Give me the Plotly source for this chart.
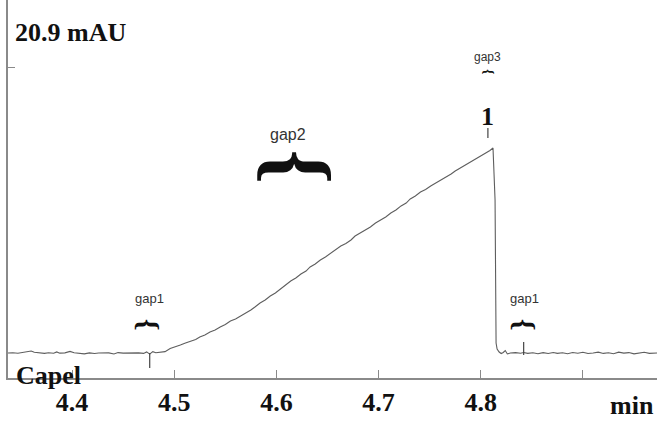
import plotly.graph_objects as go

# Electropherogram trace: migration time (min) and absorbance (mAU)
time_min = [
    4.337, 4.342, 4.347, 4.352, 4.357, 4.360, 4.363, 4.368, 4.373, 4.377,
    4.382, 4.385, 4.388, 4.393, 4.398, 4.402, 4.407, 4.412, 4.417, 4.422,
    4.426, 4.431, 4.436, 4.441, 4.445, 4.450, 4.455, 4.460, 4.465, 4.470,
    4.473, 4.476, 4.479, 4.482,
    4.486, 4.491, 4.496, 4.501, 4.506, 4.511, 4.516, 4.521, 4.525, 4.530,
    4.535, 4.540, 4.545, 4.550, 4.555, 4.560, 4.565, 4.570, 4.575, 4.579,
    4.584, 4.589, 4.594, 4.599, 4.604, 4.609, 4.614, 4.619, 4.624, 4.629,
    4.633, 4.638, 4.643, 4.648, 4.653, 4.658, 4.663, 4.668, 4.673, 4.677,
    4.682, 4.687, 4.692, 4.697, 4.702, 4.707, 4.712, 4.717, 4.722, 4.727,
    4.731, 4.736, 4.741, 4.746, 4.751, 4.756, 4.761, 4.766, 4.771, 4.775,
    4.780, 4.785, 4.790, 4.795, 4.800, 4.805, 4.809, 4.812,
    4.814, 4.815, 4.816, 4.818, 4.820, 4.822, 4.824,
    4.826, 4.829, 4.834, 4.839, 4.842, 4.846, 4.851, 4.856, 4.861, 4.866,
    4.871, 4.875, 4.880, 4.885, 4.890, 4.895, 4.900, 4.905, 4.910, 4.915,
    4.920, 4.925, 4.930, 4.935, 4.940, 4.945, 4.950, 4.955, 4.960, 4.965,
    4.970, 4.973,
]
absorbance_mau = [
    0.00, 0.02, -0.02, 0.03, 0.10, 0.15, 0.05, 0.00, -0.03, 0.02,
    -0.02, 0.08, -0.01, 0.01, 0.12, 0.02, -0.02, -0.06, 0.01, -0.04,
    0.00, -0.02, 0.01, -0.07, 0.03, -0.01, 0.00, -0.02, 0.01, -0.03,
    0.08, -0.08, 0.10, 0.02,
    0.04, 0.10, 0.33, 0.44, 0.58, 0.73, 0.88, 0.99, 1.17, 1.32,
    1.54, 1.68, 1.90, 2.08, 2.34, 2.49, 2.70, 2.89, 3.14, 3.36,
    3.65, 3.87, 4.17, 4.39, 4.68, 4.93, 5.26, 5.48, 5.77, 5.99,
    6.29, 6.51, 6.80, 7.02, 7.31, 7.57, 7.82, 8.00, 8.26, 8.55,
    8.77, 8.95, 9.21, 9.50, 9.72, 9.94, 10.23, 10.45, 10.75, 10.96,
    11.26, 11.48, 11.77, 11.95, 12.21, 12.43, 12.65, 12.83, 13.08, 13.30,
    13.52, 13.71, 13.96, 14.18, 14.40, 14.62, 14.80, 14.99,
    11.18, 0.73, 0.29, 0.07, -0.04, 0.04, 0.18,
    -0.07, 0.00, 0.03, -0.02, 0.04, -0.03, 0.02, -0.05, 0.03, -0.04,
    0.04, -0.03, 0.02, -0.05, 0.04, -0.02, 0.05, -0.04, 0.00, 0.06,
    -0.03, 0.02, -0.05, 0.06, -0.01, 0.03, -0.06, 0.02, 0.05, -0.03,
    0.01, 0.00,
]

x_tick_vals = [4.4, 4.5, 4.6, 4.7, 4.8, 4.9]
x_tick_text = ["4.4", "4.5", "4.6", "4.7", "4.8", ""]
y_full_scale = 20.9

# Event markers (time, from, to) and gap labels (label, centre time)
marker_times = [4.476, 4.842, 4.807]
marker_lows = [-1.10, -0.15, 15.72]
marker_highs = [0.00, 0.80, 16.45]

gap_labels = ["gap1", "gap2", "gap3", "gap1"]
gap_centres = [4.4755, 4.6118, 4.807, 4.843]
brace_centres = [4.4745, 4.6215, 4.807, 4.8425]

axis_grey = "#8a8a8a"
serif = "Liberation Serif"
sans = "Liberation Sans"

fig = go.Figure()
fig.add_trace(go.Scatter(
    x=time_min, y=absorbance_mau, mode="lines",
    line=dict(color="#5e5e5e", width=1.1), hoverinfo="skip", showlegend=False,
))

for t, lo, hi in zip(marker_times, marker_lows, marker_highs):
    fig.add_shape(type="line", x0=t, x1=t, y0=lo, y1=hi, xref="x", yref="y",
                  line=dict(color="#444444", width=1.2))

annotations = []
# gap labels with braces underneath
label_y = [4.02, 15.94, 21.64, 4.02]
label_size = [13, 16, 12, 13]
brace_y = [2.05, 13.60, 20.55, 2.05]
brace_size = [30, 88, 14, 30]
for name, tc, bc, ly, ls, by, bs in zip(gap_labels, gap_centres, brace_centres,
                                         label_y, label_size, brace_y, brace_size):
    annotations.append(dict(x=tc, y=ly, xref="x", yref="y", text=name,
                            showarrow=False, font=dict(family=sans, size=ls, color="#333333")))
    annotations.append(dict(x=bc, y=by, xref="x", yref="y", text="{", textangle=90,
                            showarrow=False,
                            font=dict(family=serif, size=bs, color="#111111", weight="bold")))

annotations += [
    dict(x=4.342, y=23.46, xref="x", yref="y", xanchor="left", text="20.9 mAU",
         showarrow=False, font=dict(family=serif, size=26, color="#111111", weight="bold")),
    dict(x=4.343, y=-1.62, xref="x", yref="y", xanchor="left", text="Capel",
         showarrow=False, font=dict(family=serif, size=26, color="#111111", weight="bold")),
    dict(x=4.9478, y=-0.072, xref="x", yref="paper", yanchor="middle", text="min",
         showarrow=False, font=dict(family=serif, size=26, color="#111111", weight="bold")),
    dict(x=4.807, y=17.3, xref="x", yref="y", text="1",
         showarrow=False, font=dict(family=serif, size=26, color="#111111", weight="bold")),
]

fig.update_layout(
    width=657, height=423,
    margin=dict(l=8, r=0, t=0, b=45),
    paper_bgcolor="white", plot_bgcolor="white",
    annotations=annotations,
    xaxis=dict(
        range=[4.3373, 4.9725], tickvals=x_tick_vals, ticktext=x_tick_text,
        ticks="inside", ticklen=8, tickwidth=1.3, tickcolor=axis_grey,
        showline=True, linecolor=axis_grey, linewidth=1.5,
        showgrid=False, zeroline=False,
        tickfont=dict(family=serif, size=26, color="#111111", weight="bold"),
    ),
    yaxis=dict(
        range=[-1.827, 25.80], tickvals=[y_full_scale], showticklabels=False,
        ticks="inside", ticklen=7, tickwidth=1.3, tickcolor=axis_grey,
        showline=True, linecolor=axis_grey, linewidth=1.5,
        showgrid=False, zeroline=False,
    ),
)

fig.write_html("out.html")
